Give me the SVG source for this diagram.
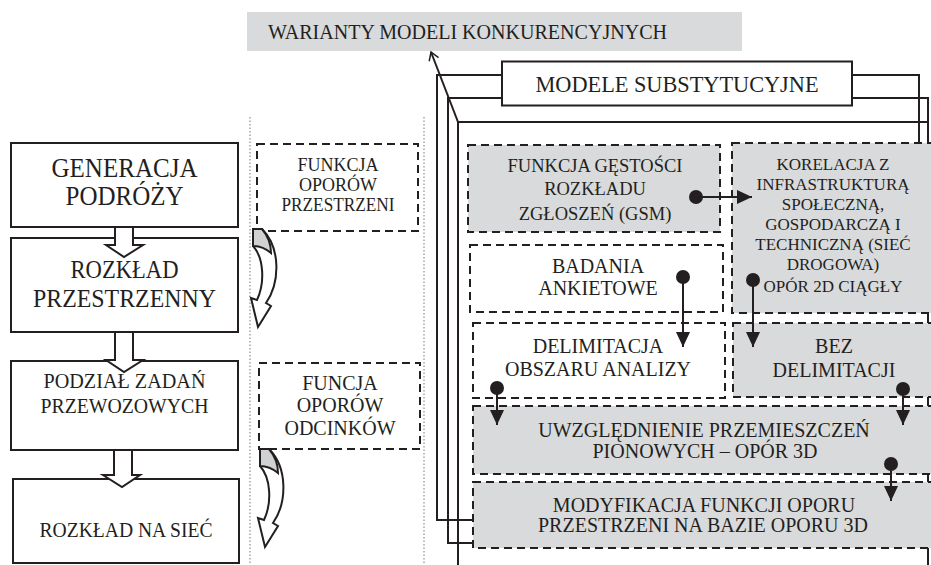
<svg xmlns="http://www.w3.org/2000/svg" width="931" height="565" viewBox="0 0 931 565">
<defs>
<style>
text{font-family:"Liberation Serif","Times New Roman",serif;fill:#231f20;}
.box{fill:#fff;stroke:#231f20;stroke-width:2;}
.dash{stroke:#231f20;stroke-width:2;stroke-dasharray:8 5;}
.g{fill:#d9dadb;}
.w{fill:#fff;}
.ln{fill:none;stroke:#231f20;stroke-width:2;}
.dot{fill:none;stroke:#777;stroke-width:1;stroke-dasharray:1.5 2;}
.con{fill:none;stroke:#231f20;stroke-width:2;marker-start:url(#dotm);marker-end:url(#arr);}
.blk{fill:#fff;stroke:#231f20;stroke-width:2;stroke-linejoin:miter;}
.c{text-anchor:middle;}
</style>
<marker id="arr" markerUnits="userSpaceOnUse" markerWidth="16" markerHeight="16" refX="15" refY="8" orient="auto"><path d="M0,1 L15,8 L0,15 Z" fill="#231f20"/></marker>
<marker id="dotm" markerUnits="userSpaceOnUse" markerWidth="16" markerHeight="16" refX="8" refY="8" orient="auto"><circle cx="8" cy="8" r="7" fill="#231f20"/></marker>
<marker id="tip" markerUnits="userSpaceOnUse" markerWidth="12" markerHeight="12" refX="10" refY="6" orient="auto"><path d="M2,1 L10,6 L2,11" fill="none" stroke="#231f20" stroke-width="1.5"/></marker>
<g id="curv">
<path class="blk" d="M262,229 C281,248 280,283 266,303 L271,306 L258,327 L251,298 L257,300 C265,283 264,258 253,246 L253,229 Z"/>
<path fill="#d0d1d3" stroke="#231f20" stroke-width="2" d="M253,229 L262,229 C268,236 271,244 271,253 C265,248 259,246 253,246 Z"/>
</g>
</defs>

<!-- dotted separators -->
<line class="dot" x1="250" y1="117" x2="250" y2="565"/>
<line class="dot" x1="424" y1="117" x2="424" y2="565"/>

<g id="title">
<rect x="247" y="12" width="495" height="39" class="g"/>
<text x="268" y="39" font-size="20" textLength="399" lengthAdjust="spacingAndGlyphs">WARIANTY MODELI KONKURENCYJNYCH</text>
</g>

<!-- container lines -->
<g id="container">
<polyline class="ln" points="502,75 437,75 437,520 473,520"/>
<polyline class="ln" points="502,98 448,98 448,543 473,543"/>
<polyline class="ln" points="928,122 458,122 458,565"/>
<polyline class="ln" points="852,75 919,75 919,143"/>
<polyline class="ln" points="852,98 928,98 928,565"/>
<line x1="458" y1="122" x2="431" y2="52" stroke="#231f20" stroke-width="2" marker-end="url(#tip)"/>
</g>

<g id="modele">
<rect x="502" y="61.5" width="350" height="44" class="box"/>
<text x="677" y="92" font-size="22.5" class="c" textLength="283" lengthAdjust="spacingAndGlyphs">MODELE SUBSTYTUCYJNE</text>
</g>

<!-- left column -->
<g id="generacja">
<rect x="11" y="143" width="227" height="84" class="box"/>
<text x="124.5" y="177" font-size="27" class="c" textLength="146" lengthAdjust="spacingAndGlyphs">GENERACJA</text>
<text x="124.5" y="205" font-size="27" class="c" textLength="118" lengthAdjust="spacingAndGlyphs">PODRÓŻY</text>
</g>
<g id="rozklad">
<rect x="11" y="238" width="227" height="94" class="box"/>
<text x="124.5" y="278" font-size="25" class="c" textLength="108" lengthAdjust="spacingAndGlyphs">ROZKŁAD</text>
<text x="124.5" y="307" font-size="25" class="c" textLength="183" lengthAdjust="spacingAndGlyphs">PRZESTRZENNY</text>
</g>
<g id="podzial">
<rect x="11" y="361" width="227" height="89" class="box"/>
<text x="124.5" y="388" font-size="20.5" class="c" textLength="162" lengthAdjust="spacingAndGlyphs">PODZIAŁ ZADAŃ</text>
<text x="124.5" y="413" font-size="20.5" class="c" textLength="168" lengthAdjust="spacingAndGlyphs">PRZEWOZOWYCH</text>
</g>
<g id="siec">
<rect x="13" y="479" width="226" height="84" class="box"/>
<text x="126" y="537" font-size="20.5" class="c" textLength="173" lengthAdjust="spacingAndGlyphs">ROZKŁAD NA SIEĆ</text>
</g>

<g id="block-arrows">
<path class="blk" d="M115,227 L133,227 L133,245 L143,245 L124,257 L106,245 L115,245 Z"/>
<path class="blk" d="M115,332 L133,332 L133,360 L143,360 L124,372 L106,360 L115,360 Z"/>
<path class="blk" d="M114,450 L132,450 L132,475 L140,475 L122,487 L103,475 L114,475 Z"/>
</g>

<!-- middle column -->
<g id="funkcja-oporow">
<rect x="257" y="144" width="161" height="87" class="w dash"/>
<text x="338" y="171" font-size="18" class="c">FUNKCJA</text>
<text x="338" y="191" font-size="18" class="c">OPORÓW</text>
<text x="338" y="211" font-size="18" class="c" textLength="113" lengthAdjust="spacingAndGlyphs">PRZESTRZENI</text>
</g>
<g id="funcja-odcinkow">
<rect x="259" y="363" width="161" height="86" class="w dash"/>
<text x="340" y="390" font-size="20" class="c">FUNCJA</text>
<text x="340" y="412" font-size="20" class="c">OPORÓW</text>
<text x="340" y="435" font-size="20" class="c">ODCINKÓW</text>
</g>
<g id="curved-1"><use href="#curv"/></g>
<g id="curved-2"><use href="#curv" transform="translate(7,220)"/></g>

<!-- right boxes -->
<g id="gsm">
<rect x="468" y="145" width="252" height="87" class="g dash"/>
<text x="595" y="172" font-size="18.5" class="c">FUNKCJA GĘSTOŚCI</text>
<text x="595" y="195" font-size="18.5" class="c">ROZKŁADU</text>
<text x="595" y="220" font-size="18.5" class="c">ZGŁOSZEŃ (GSM)</text>
</g>
<g id="korelacja">
<rect x="732" y="143" width="215" height="170" class="g dash"/>
<text x="833" y="170" font-size="17" class="c">KORELACJA Z</text>
<text x="833" y="190" font-size="17" class="c">INFRASTRUKTURĄ</text>
<text x="833" y="210" font-size="17" class="c">SPOŁECZNĄ,</text>
<text x="833" y="230" font-size="17" class="c">GOSPODARCZĄ I</text>
<text x="833" y="250" font-size="17" class="c">TECHNICZNĄ (SIEĆ</text>
<text x="833" y="270" font-size="17" class="c">DROGOWA)</text>
<text x="833" y="292" font-size="17" class="c">OPÓR 2D CIĄGŁY</text>
</g>
<g id="badania">
<rect x="470" y="245" width="253" height="67" class="w dash"/>
<text x="598" y="273" font-size="20" class="c">BADANIA</text>
<text x="598" y="295" font-size="20" class="c">ANKIETOWE</text>
</g>
<g id="delimitacja">
<rect x="473" y="323" width="252" height="75" class="w dash"/>
<text x="598" y="353" font-size="20" class="c">DELIMITACJA</text>
<text x="598" y="376" font-size="20" class="c">OBSZARU ANALIZY</text>
</g>
<g id="bez">
<rect x="733" y="323" width="214" height="74" class="g dash"/>
<text x="834" y="353" font-size="20" class="c">BEZ</text>
<text x="834" y="377" font-size="20" class="c">DELIMITACJI</text>
</g>
<g id="uwzglednienie">
<rect x="473" y="406" width="474" height="68" class="g dash"/>
<text x="704" y="437" font-size="20" class="c">UWZGLĘDNIENIE PRZEMIESZCZEŃ</text>
<text x="705" y="458" font-size="20" class="c">PIONOWYCH – OPÓR 3D</text>
</g>
<g id="modyfikacja">
<rect x="473" y="482" width="474" height="66" class="g dash"/>
<text x="704" y="512" font-size="20" class="c">MODYFIKACJA FUNKCJI OPORU</text>
<text x="703" y="532" font-size="20" class="c">PRZESTRZENI NA BAZIE OPORU 3D</text>
</g>

<g id="connectors">
<line class="con" x1="696" y1="197" x2="752" y2="197"/>
<line class="con" x1="683" y1="277" x2="683" y2="347"/>
<line class="con" x1="753" y1="280" x2="753" y2="347"/>
<line class="con" x1="497" y1="388" x2="497" y2="425"/>
<line class="con" x1="903" y1="389" x2="903" y2="425"/>
<line class="con" x1="891" y1="464" x2="891" y2="501"/>
</g>
</svg>
